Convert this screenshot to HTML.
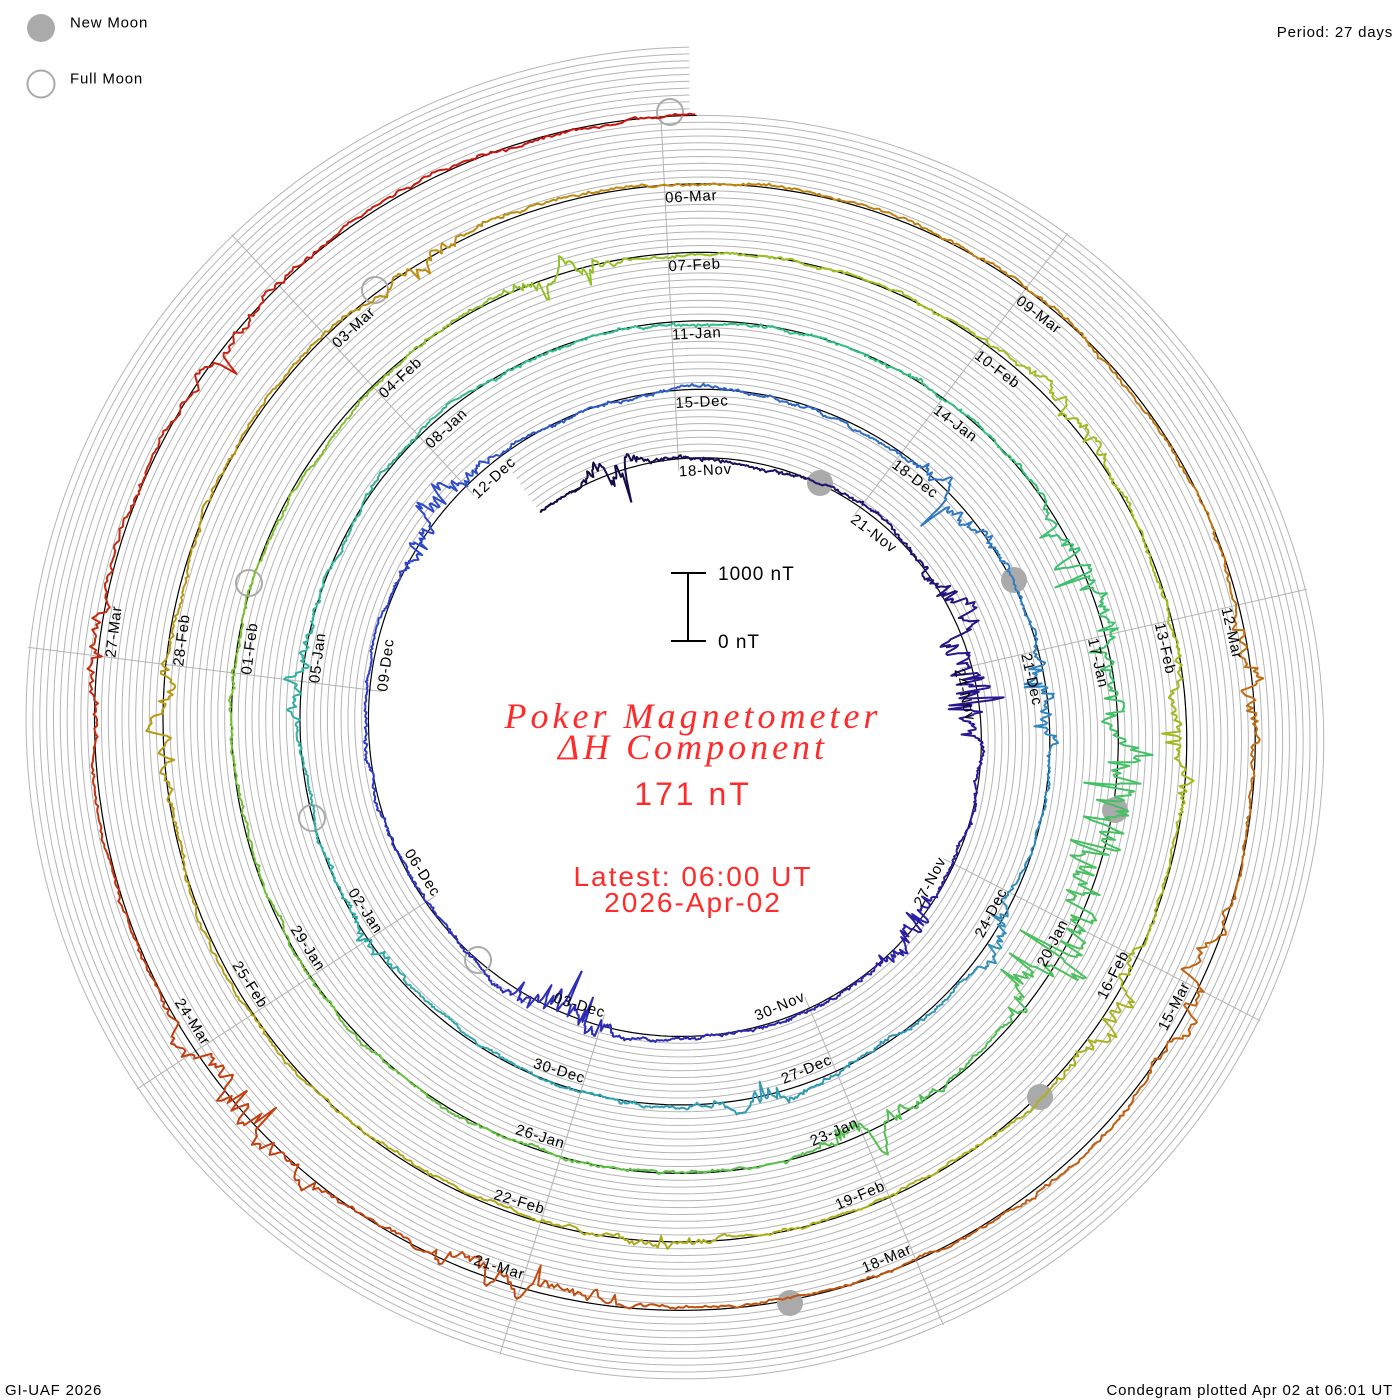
<!DOCTYPE html>
<html><head><meta charset="utf-8"><style>
html,body{margin:0;padding:0;background:#fff;}
svg{display:block;}
.lab{font-family:"Liberation Sans",sans-serif;font-size:15px;fill:#000;letter-spacing:0.8px;}
.t{font-family:"Liberation Sans",sans-serif;font-size:15px;fill:#000;letter-spacing:0.8px;}
</style></head><body>
<svg id="s" width="1400" height="1400" viewBox="0 0 1400 1400" xmlns="http://www.w3.org/2000/svg">
<g id="grid"></g>
<g id="spokes"></g>
<g id="base"></g>
<g id="moons">
<circle cx="820" cy="483" r="13" fill="#aaa"/>
<circle cx="1014" cy="580" r="13" fill="#aaa"/>
<circle cx="1115" cy="810" r="13" fill="#aaa"/>
<circle cx="1040" cy="1097" r="13" fill="#aaa"/>
<circle cx="790" cy="1303" r="13" fill="#aaa"/>
<circle cx="670" cy="112" r="13" fill="none" stroke="#aaa" stroke-width="2"/>
<circle cx="375" cy="290" r="13" fill="none" stroke="#aaa" stroke-width="2"/>
<circle cx="249" cy="583" r="13" fill="none" stroke="#aaa" stroke-width="2"/>
<circle cx="312" cy="818" r="13" fill="none" stroke="#aaa" stroke-width="2"/>
<circle cx="478" cy="960" r="13" fill="none" stroke="#aaa" stroke-width="2"/>
</g>
<g id="data"></g>
<g id="labels">
<text class="lab">18-Nov</text><text class="lab">21-Nov</text><text class="lab">24-Nov</text><text class="lab">27-Nov</text><text class="lab">30-Nov</text><text class="lab">03-Dec</text><text class="lab">06-Dec</text><text class="lab">09-Dec</text><text class="lab">12-Dec</text>
<text class="lab">15-Dec</text><text class="lab">18-Dec</text><text class="lab">21-Dec</text><text class="lab">24-Dec</text><text class="lab">27-Dec</text><text class="lab">30-Dec</text><text class="lab">02-Jan</text><text class="lab">05-Jan</text><text class="lab">08-Jan</text>
<text class="lab">11-Jan</text><text class="lab">14-Jan</text><text class="lab">17-Jan</text><text class="lab">20-Jan</text><text class="lab">23-Jan</text><text class="lab">26-Jan</text><text class="lab">29-Jan</text><text class="lab">01-Feb</text><text class="lab">04-Feb</text>
<text class="lab">07-Feb</text><text class="lab">10-Feb</text><text class="lab">13-Feb</text><text class="lab">16-Feb</text><text class="lab">19-Feb</text><text class="lab">22-Feb</text><text class="lab">25-Feb</text><text class="lab">28-Feb</text><text class="lab">03-Mar</text>
<text class="lab">06-Mar</text><text class="lab">09-Mar</text><text class="lab">12-Mar</text><text class="lab">15-Mar</text><text class="lab">18-Mar</text><text class="lab">21-Mar</text><text class="lab">24-Mar</text><text class="lab">27-Mar</text>
</g>
<circle cx="41" cy="28" r="14" fill="#aaa"/>
<circle cx="41" cy="84" r="13.5" fill="none" stroke="#aaa" stroke-width="2"/>
<text class="t" x="70" y="23" dominant-baseline="central">New Moon</text>
<text class="t" x="70" y="79" dominant-baseline="central">Full Moon</text>
<text class="t" x="1393" y="37" text-anchor="end">Period: 27 days</text>
<text class="t" x="5" y="1395">GI-UAF 2026</text>
<text class="t" x="1393" y="1395" text-anchor="end">Condegram plotted Apr 02 at 06:01 UT</text>
<g stroke="#000" stroke-width="2">
<line x1="688" y1="573" x2="688" y2="641"/>
<line x1="671" y1="573" x2="706" y2="573"/>
<line x1="671" y1="641" x2="706" y2="641"/>
</g>
<text x="718" y="580" font-family="Liberation Sans,sans-serif" font-size="19" letter-spacing="1">1000 nT</text>
<text x="718" y="648" font-family="Liberation Sans,sans-serif" font-size="19" letter-spacing="1">0 nT</text>
<g fill="#ff2a2a" text-anchor="middle">
<text x="693" y="728" font-family="Liberation Serif,serif" font-style="italic" font-size="36" letter-spacing="4">Poker Magnetometer</text>
<text x="693" y="759" font-family="Liberation Serif,serif" font-style="italic" font-size="36" letter-spacing="4">ΔH Component</text>
<text x="693" y="805" font-family="Liberation Sans,sans-serif" font-size="32" letter-spacing="3">171 nT</text>
<text x="693" y="886" font-family="Liberation Sans,sans-serif" font-size="28" letter-spacing="2">Latest: 06:00 UT</text>
<text x="693" y="912" font-family="Liberation Sans,sans-serif" font-size="28" letter-spacing="2">2026-Apr-02</text>
</g>
</svg>
<script>
(function(){
var NS="http://www.w3.org/2000/svg";
var cx=692,cy=730,R0=272,P=68.5,PHI0=-2.9;
function ang(d){return (PHI0+d*40/3)*Math.PI/180;}
function rad(d){return R0+P*(PHI0+d*40/3)/360;}
function pt(d,off){var a=ang(d),r=rad(d)+off;return [cx+r*Math.sin(a),cy-r*Math.cos(a)];}
var D0=-2.4,D1=135.25;
function el(n,a,p){var e=document.createElementNS(NS,n);for(var k in a)e.setAttribute(k,a[k]);p.appendChild(e);return e;}
var g=document.getElementById('grid');
for(var k=1;k<=10;k++){var s="";for(var d=D0;d<=D1;d+=0.1){var p=pt(d,k*P/10);s+=(s?"L":"M")+p[0].toFixed(1)+","+p[1].toFixed(1);}
el('path',{d:s,fill:'none',stroke:'#b4b4b4','stroke-width':1},g);}
var b=document.getElementById('base');var s="";
for(var d=D0;d<=D1;d+=0.05){var p=pt(d,0);s+=(s?"L":"M")+p[0].toFixed(1)+","+p[1].toFixed(1);}
el('path',{d:s,fill:'none',stroke:'#000','stroke-width':1.2},b);
var sp=document.getElementById('spokes');
for(var k=0;k<9;k++){var d0=3*k, d4=d0+108;var a=ang(d0);var r1=rad(d0)-12,r2=rad(d4)+70;
el('line',{x1:cx+r1*Math.sin(a),y1:cy-r1*Math.cos(a),x2:cx+r2*Math.sin(a),y2:cy-r2*Math.cos(a),stroke:'#b4b4b4','stroke-width':1},sp);}
var labs=document.getElementById('labels').getElementsByTagName('text');
for(var i=0;i<labs.length;i++){var d=3*i;var phi=PHI0+40*(i%9);var a=phi*Math.PI/180;var r=rad(d)-13;
var x=cx+r*Math.sin(a),y=cy-r*Math.cos(a);var t=labs[i];
t.setAttribute('x',x.toFixed(1));t.setAttribute('y',y.toFixed(1));t.setAttribute('dominant-baseline','central');
if(phi>90&&phi<270){t.setAttribute('text-anchor','end');t.setAttribute('transform','rotate('+(phi-180)+' '+x.toFixed(1)+' '+y.toFixed(1)+')');}
else{t.setAttribute('text-anchor','start');t.setAttribute('transform','rotate('+phi+' '+x.toFixed(1)+' '+y.toFixed(1)+')');}}
var stops=[[0,[20,10,64]],[0.07,[42,24,152]],[0.17,[46,60,204]],[0.25,[47,127,192]],[0.33,[48,168,176]],[0.42,[48,192,128]],[0.52,[96,192,64]],[0.62,[160,192,32]],[0.72,[176,168,24]],[0.8,[192,136,16]],[0.9,[192,80,16]],[1,[200,16,16]]];
function col(f){for(var i=1;i<stops.length;i++){if(f<=stops[i][0]){var a=stops[i-1],b=stops[i],u=(f-a[0])/(b[0]-a[0]);var c=[0,1,2].map(function(j){return Math.round(a[1][j]+(b[1][j]-a[1][j])*u);});return 'rgb('+c.join(',')+')';}}return 'rgb(200,16,16)';}
var seed=12345;function rnd(){seed=(seed*1103515245+12345)%2147483648;return seed/2147483648;}
function gau(){return Math.sqrt(-2*Math.log(rnd()+1e-9))*Math.cos(2*Math.PI*rnd());}
var storms=[[-1.0,0.3,25],[5.3,0.5,30],[6.4,0.4,30],[10.2,0.4,20],[15.6,0.5,28],[23.5,0.5,22],[31,0.5,20],[33.6,0.4,18],[36.5,0.4,12],[40,0.4,12],[45,0.4,10],[48,0.4,14],[59.5,0.5,30],[61.8,0.6,55],[63.2,0.5,40],[65.8,0.4,22],[80,0.4,20],[85,0.4,14],[88,0.5,14],[90.5,0.4,20],[95,0.4,12],[101.5,0.4,18],[106,0.4,10],[114.5,0.4,16],[117,0.4,20],[123,0.5,22],[125.5,0.5,25],[129,0.4,12],[131.5,0.4,14]];
function amp(d){var a=0;for(var i=0;i<storms.length;i++){var s=storms[i];var z=(d-s[0])/s[1];a+=s[2]*Math.exp(-z*z/2);}return a;}
var dg=document.getElementById('data');var slow=0,fast=0;var dt=0.02;var chunk=[];var cd=D0;
function flush(){if(chunk.length<2)return;el('polyline',{points:chunk.join(' '),fill:'none',stroke:col((cd-D0)/(D1-D0)),'stroke-width':2,'stroke-linejoin':'round'},dg);}
for(var d=D0;d<=D1;d+=dt){var A=amp(d);slow=slow*0.98+gau()*0.5;fast=fast*0.8+gau()*0.5;
var v=slow+gau()*0.6+fast*A*0.5;if(A>8&&rnd()<0.06)v-=A*(0.3+rnd()*0.9);
var p=pt(d,v);chunk.push(p[0].toFixed(1)+','+p[1].toFixed(1));
if(d-cd>0.5){flush();chunk=[chunk[chunk.length-1]];cd=d;}}
flush();
})();
</script>
</body></html>
